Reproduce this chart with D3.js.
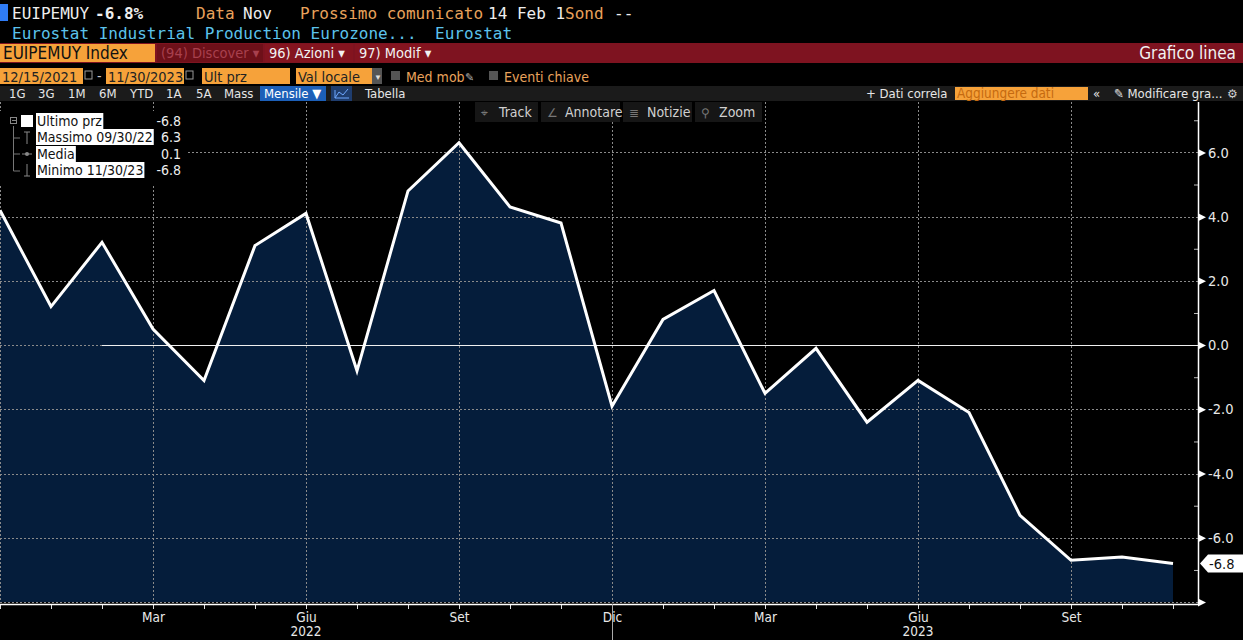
<!DOCTYPE html>
<html>
<head>
<meta charset="utf-8">
<script src="https://cdn.jsdelivr.net/npm/d3@7"></script>
<style>
  html, body { margin: 0; padding: 0; background: #000; }
  svg { display: block; }
  .mono { font-family: "DejaVu Sans Mono", monospace; }
  .nar { font-family: "Liberation Sans Narrow", "DejaVu Sans Condensed", "Roboto", sans-serif; }
</style>
</head>
<body>
<script>
// dati
const months = ["Dic", "Gen", "Feb", "Mar", "Apr", "Mag", "Giu", "Lug", "Ago", "Set", "Ott", "Nov",
                "Dic", "Gen", "Feb", "Mar", "Apr", "Mag", "Giu", "Lug", "Ago", "Set", "Ott", "Nov"];
const values = [4.2, 1.2, 3.2, 0.5, -1.1, 3.1, 4.1, -0.8, 4.8, 6.3, 4.3, 3.8,
                -1.9, 0.8, 1.7, -1.5, -0.1, -2.4, -1.1, -2.1, -5.3, -6.7, -6.6, -6.8];
const labelIdx = [3, 6, 9, 12, 15, 18, 21];        // Mar Giu Set Dic ...
const years = [{ idx: 6, label: "2022" }, { idx: 18, label: "2023" }];
const yTicks = [-8, -6, -4, -2, 0, 2, 4, 6];
const yMinor = [-7, -5, -3, -1, 1, 3, 5, 7];
const legendRows = [
  { label: "Ultimo prz", value: "-6.8" },
  { label: "Massimo 09/30/22", value: "6.3" },
  { label: "Media", value: "0.1" },
  { label: "Minimo 11/30/23", value: "-6.8" }
];
const lastValue = -6.8;

// costanti
const width = 1243, height = 640;
const plot = { left: 0, right: 1198, top: 102, bottom: 604 };

const svg = d3.select("body").append("svg")
  .attr("width", width).attr("height", height)
  .style("background", "#000");

const x = d3.scaleLinear().domain([0, 23.49]).range([plot.left, plot.right]);
const y = d3.scaleLinear().domain([-8.06, 7.6]).range([plot.bottom, plot.top - 1]);
const fmt = v => d3.format(".1f")(v).replace("−", "-");

// ---------- intestazione ----------
const orange = "#e9a35c", cyan = "#5cc3ec", white = "#eeeeee";
svg.append("rect").attr("x", 0).attr("y", 4).attr("width", 8).attr("height", 17).attr("fill", "#2f7cf6");
const h1 = svg.append("text").attr("class", "mono").attr("y", 19).attr("font-size", 16);
h1.append("tspan").attr("x", 12).attr("fill", white).text("EUIPEMUY");
h1.append("tspan").attr("x", 95).attr("fill", white).attr("font-weight", "bold").text("-6.8%");
h1.append("tspan").attr("x", 196).attr("fill", orange).text("Data");
h1.append("tspan").attr("x", 243).attr("fill", white).text("Nov");
h1.append("tspan").attr("x", 300).attr("fill", orange).text("Prossimo comunicato");
h1.append("tspan").attr("x", 488).attr("fill", white).text("14 Feb 1");
h1.append("tspan").attr("x", 565).attr("fill", orange).text("Sond");
h1.append("tspan").attr("x", 614).attr("fill", white).text("--");

const h2 = svg.append("text").attr("class", "mono").attr("y", 39).attr("font-size", 16).attr("fill", cyan);
h2.append("tspan").attr("x", 12).text("Eurostat Industrial Production Eurozone...");
h2.append("tspan").attr("x", 435).text("Eurostat");

// barra rossa
svg.append("rect").attr("x", 0).attr("y", 43).attr("width", width).attr("height", 20).attr("fill", "#7e1320");
svg.append("rect").attr("x", 0).attr("y", 44).attr("width", 155).attr("height", 18).attr("fill", "#f6a23a");
svg.append("text").attr("class", "nar").attr("x", 3).attr("y", 59).attr("font-size", 17).attr("fill", "#111").text("EUIPEMUY Index");
const segs = [
  { x0: 157, x1: 263, t: "(94) Discover ▾", c: "#a8404e", bg: "#6e1019" },
  { x0: 265, x1: 353, t: "96) Azioni ▾", c: "#f2f2f2", bg: "#84141f" },
  { x0: 355, x1: 440, t: "97) Modif ▾", c: "#f2f2f2", bg: "#84141f" }
];
segs.forEach(s => {
  svg.append("rect").attr("x", s.x0).attr("y", 44).attr("width", s.x1 - s.x0).attr("height", 18).attr("fill", s.bg);
  svg.append("text").attr("class", "nar").attr("x", s.x0 + 4).attr("y", 58).attr("font-size", 14.5)
    .attr("fill", s.c).text(s.t);
});
svg.append("text").attr("class", "nar").attr("x", 1236).attr("y", 59).attr("font-size", 17)
  .attr("text-anchor", "end").attr("fill", "#f2f2f2").text("Grafico linea");

// riga date
const inputs = [
  { x0: 0, x1: 83, t: "12/15/2021" },
  { x0: 106, x1: 184, t: "11/30/2023" },
  { x0: 202, x1: 290, t: "Ult prz" },
  { x0: 296, x1: 372, t: "Val locale" }
];
inputs.forEach(d => {
  svg.append("rect").attr("x", d.x0).attr("y", 68).attr("width", d.x1 - d.x0).attr("height", 16).attr("fill", "#f6a23a");
  svg.append("text").attr("class", "nar").attr("x", d.x0 + 2).attr("y", 82).attr("font-size", 14.5)
    .attr("fill", "#222").text(d.t);
});
[85, 186].forEach(cx => {
  svg.append("rect").attr("x", cx).attr("y", 71).attr("width", 7).attr("height", 8)
    .attr("fill", "none").attr("stroke", "#999").attr("stroke-width", 1);
});
svg.append("text").attr("class", "nar").attr("x", 97).attr("y", 81).attr("font-size", 14).attr("fill", "#ccc").text("-");
svg.append("rect").attr("x", 372).attr("y", 68).attr("width", 10).attr("height", 16).attr("fill", "#555");
svg.append("text").attr("x", 374).attr("y", 80).attr("font-size", 8).attr("fill", "#ddd").text("▼");
svg.append("rect").attr("x", 391).attr("y", 71).attr("width", 9).attr("height", 9).attr("fill", "#555");
svg.append("text").attr("class", "nar").attr("x", 406).attr("y", 82).attr("font-size", 14).attr("fill", orange).text("Med mob");
svg.append("text").attr("x", 465).attr("y", 81).attr("font-size", 11).attr("fill", "#aaa").text("✎");
svg.append("rect").attr("x", 489).attr("y", 71).attr("width", 9).attr("height", 9).attr("fill", "#555");
svg.append("text").attr("class", "nar").attr("x", 504).attr("y", 82).attr("font-size", 14).attr("fill", orange).text("Eventi chiave");

// barra periodi
svg.append("rect").attr("x", 0).attr("y", 86).attr("width", width).attr("height", 15).attr("fill", "#1b1b1b");
const periods = [["1G", 9], ["3G", 38], ["1M", 68], ["6M", 99], ["YTD", 130], ["1A", 166], ["5A", 196], ["Mass", 224]];
periods.forEach(p => {
  svg.append("text").attr("class", "nar").attr("x", p[1]).attr("y", 98).attr("font-size", 13).attr("fill", "#e6e6e6").text(p[0]);
});
svg.append("rect").attr("x", 260).attr("y", 86).attr("width", 66).attr("height", 15).attr("fill", "#1c5fb8");
svg.append("text").attr("class", "nar").attr("x", 264).attr("y", 98).attr("font-size", 13).attr("fill", "#fff").text("Mensile ▼");
svg.append("rect").attr("x", 331).attr("y", 86).attr("width", 21).attr("height", 15).attr("fill", "#1f3d6e");
svg.append("path").attr("d", "M335,98 L339,92 L343,95 L348,89 M335,90 L335,98 L349,98")
  .attr("fill", "none").attr("stroke", "#6fa8ff").attr("stroke-width", 1);
svg.append("text").attr("class", "nar").attr("x", 365).attr("y", 98).attr("font-size", 13).attr("fill", "#e6e6e6").text("Tabella");
svg.append("text").attr("class", "nar").attr("x", 866).attr("y", 98).attr("font-size", 13).attr("fill", "#e6e6e6").text("+ Dati correla");
svg.append("rect").attr("x", 955).attr("y", 87).attr("width", 133).attr("height", 13).attr("fill", "#f6a23a");
svg.append("text").attr("class", "nar").attr("x", 957).attr("y", 98).attr("font-size", 13.5).attr("fill", "#c56a10").text("Aggiungere dati");
svg.append("text").attr("class", "nar").attr("x", 1093).attr("y", 98).attr("font-size", 13).attr("fill", "#e6e6e6").text("«");
svg.append("text").attr("class", "nar").attr("x", 1114).attr("y", 98).attr("font-size", 13).attr("fill", "#e6e6e6").text("✎ Modificare gra...");
svg.append("text").attr("x", 1227).attr("y", 98).attr("font-size", 12).attr("fill", "#cccccc").text("⚙");

// ---------- grafico ----------
const g = svg.append("g");

// area
const area = d3.area().x((d, i) => x(i)).y0(y(-8)).y1(d => y(d));
g.append("path").datum(values).attr("d", area).attr("fill", "#051d3b");

// griglia
const grid = g.append("g").attr("stroke", "#8a8a8a").attr("stroke-width", 1).attr("stroke-dasharray", "2,2");
grid.selectAll("line.h").data(yTicks).enter().append("line")
  .attr("x1", plot.left).attr("x2", plot.right)
  .attr("y1", d => Math.round(y(d)) + 0.5).attr("y2", d => Math.round(y(d)) + 0.5);
grid.selectAll("line.v").data([0].concat(labelIdx)).enter().append("line")
  .attr("x1", d => Math.round(x(d)) + 0.5).attr("x2", d => Math.round(x(d)) + 0.5)
  .attr("y1", plot.top).attr("y2", y(-8));

// linea della media (da Feb 2022)
g.append("line").attr("x1", x(2)).attr("x2", plot.right)
  .attr("y1", Math.round(y(0)) + 0.5).attr("y2", Math.round(y(0)) + 0.5)
  .attr("stroke", "#f0f0f0").attr("stroke-width", 1);

// serie
const line = d3.line().x((d, i) => x(i)).y(d => y(d));
g.append("path").datum(values).attr("d", line)
  .attr("fill", "none").attr("stroke", "#ffffff").attr("stroke-width", 3).attr("stroke-linejoin", "miter");

// asse y a destra
const yAxis = g.append("g").attr("transform", `translate(${plot.right},0)`)
  .call(d3.axisRight(y).tickValues(yTicks).tickSize(0).tickPadding(10));
yAxis.select(".domain").remove();
yAxis.selectAll("text").attr("class", "nar").attr("font-size", 14.5).attr("fill", "#e8e8e8")
  .text(d => d === -8 ? "" : fmt(d));
yAxis.selectAll(".tick").append("path").attr("d", "M0,-4 L8,0 L0,4 Z").attr("fill", "#fff");
g.append("g").attr("transform", `translate(${plot.right},0)`)
  .call(d3.axisLeft(y).tickValues(yMinor).tickSize(4).tickFormat(""))
  .call(s => s.select(".domain").remove())
  .selectAll("line").attr("stroke", "#bbb");
g.append("line").attr("x1", plot.right + 0.5).attr("x2", plot.right + 0.5)
  .attr("y1", plot.top).attr("y2", plot.bottom).attr("stroke", "#fff").attr("stroke-width", 1.5);

// asse x
const xAxis = g.append("g").attr("transform", `translate(0,${plot.bottom})`)
  .call(d3.axisBottom(x).tickValues(d3.range(months.length)).tickSize(5).tickPadding(3)
    .tickFormat(i => labelIdx.includes(i) ? months[i] : ""));
xAxis.select(".domain").remove();
xAxis.selectAll("line").attr("stroke", "#ddd");
xAxis.selectAll("text").attr("class", "nar").attr("font-size", 13.5).attr("fill", "#e8e8e8");
g.append("line").attr("x1", 0).attr("x2", plot.right).attr("y1", plot.bottom + 0.5).attr("y2", plot.bottom + 0.5)
  .attr("stroke", "#fff").attr("stroke-width", 1.5);
g.append("line").attr("x1", x(12) + 0.5).attr("x2", x(12) + 0.5).attr("y1", plot.bottom).attr("y2", height)
  .attr("stroke", "#aaa");
g.selectAll("text.year").data(years).enter().append("text")
  .attr("class", "nar").attr("x", d => x(d.idx)).attr("y", 636).attr("text-anchor", "middle")
  .attr("font-size", 13.5).attr("fill", "#e8e8e8").text(d => d.label);

// etichetta ultimo valore
const ly = y(lastValue);
g.append("path").attr("d", `M${plot.right + 2},${ly} L${plot.right + 10},${ly - 9} L${width},${ly - 9} L${width},${ly + 9} L${plot.right + 10},${ly + 9} Z`)
  .attr("fill", "#fff");
g.append("text").attr("class", "nar").attr("x", plot.right + 11).attr("y", ly + 5)
  .attr("font-size", 14.5).attr("fill", "#111").text(fmt(lastValue));

// barra strumenti nel grafico
const tools = [
  { x0: 475, x1: 538, icon: "⌖", t: "Track" },
  { x0: 541, x1: 620, icon: "∠", t: "Annotare" },
  { x0: 623, x1: 692, icon: "≣", t: "Notizie" },
  { x0: 695, x1: 762, icon: "⚲", t: "Zoom" }
];
tools.forEach(d => {
  g.append("rect").attr("x", d.x0).attr("y", 102).attr("width", d.x1 - d.x0).attr("height", 20).attr("fill", "#161616");
  g.append("text").attr("x", d.x0 + 6).attr("y", 117).attr("font-size", 12).attr("fill", "#777").text(d.icon);
  g.append("text").attr("class", "nar").attr("x", d.x0 + 24).attr("y", 117).attr("font-size", 14).attr("fill", "#d0d0d0").text(d.t);
});

// legenda
const lg = g.append("g");
lg.append("rect").attr("x", 0).attr("y", 111).attr("width", 186).attr("height", 73).attr("fill", "#000");
const rowY = [121, 137, 154, 170];
lg.append("path").attr("d", "M13.5,126 L13.5,171 M13.5,138 L20,138 M13.5,154 L20,154 M13.5,171 L20,171")
  .attr("stroke", "#777").attr("fill", "none");
lg.append("rect").attr("x", 10.5).attr("y", 117.5).attr("width", 6).attr("height", 6).attr("fill", "none").attr("stroke", "#888");
lg.append("line").attr("x1", 12).attr("x2", 16).attr("y1", 120.5).attr("y2", 120.5).attr("stroke", "#888");
lg.append("rect").attr("x", 21).attr("y", 115).attr("width", 12).attr("height", 12).attr("fill", "#fff");
lg.append("path").attr("d", "M24,132 L30,132 M27,132 L27,144 M22,154 L32,154 M27,164 L27,176 M24,176 L30,176")
  .attr("stroke", "#888").attr("fill", "none");
lg.append("circle").attr("cx", 27).attr("cy", 154).attr("r", 2).attr("fill", "#888");
legendRows.forEach((r, i) => {
  const t = lg.append("text").attr("class", "nar").attr("x", 37).attr("y", rowY[i] + 5)
    .attr("font-size", 14).attr("fill", "#111").text(r.label);
  const bb = t.node().getBBox();
  lg.insert("rect", () => t.node()).attr("x", 36).attr("y", rowY[i] - 8).attr("width", bb.width + 2).attr("height", 16).attr("fill", "#fff");
  lg.append("text").attr("class", "nar").attr("x", 181).attr("y", rowY[i] + 5).attr("text-anchor", "end")
    .attr("font-size", 14).attr("fill", "#eee").text(r.value);
});
</script>
</body>
</html>
